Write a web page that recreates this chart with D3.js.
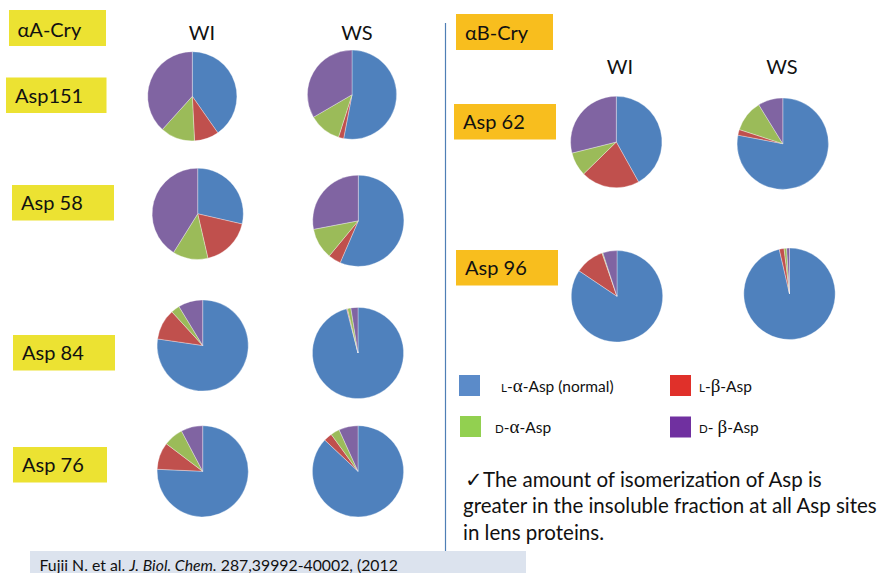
<!DOCTYPE html>
<html>
<head>
<meta charset="utf-8">
<script src="https://cdn.jsdelivr.net/npm/d3@7"></script>
<style>
  html, body { margin: 0; padding: 0; background: #fff; }
  svg { display: block; font-family: Lato, "Noto Sans", sans-serif; }
  .greek { font-family: "Liberation Serif", "DejaVu Serif", serif; }
</style>
</head>
<body>
<svg id="chart" width="881" height="573"></svg>
<script>
// Asp isomer composition (%) per site, water-insoluble (WI) and water-soluble (WS) fractions
const isomers = ["L-α-Asp (normal)", "L-β-Asp", "D-α-Asp", "D-β-Asp"];
const fractions = ["WI", "WS"];

const alphaASites = ["Asp151", "Asp 58", "Asp 84", "Asp 76"];
const alphaA_WI = [
  [40.3, 8.9, 12.5, 38.3],
  [28.6, 17.8, 12.5, 41.1],
  [77.3, 10.9, 3.1, 8.7],
  [75.7, 9.6, 7.0, 7.7]
];
const alphaA_WS = [
  [53.0, 1.9, 11.7, 33.4],
  [56.5, 4.5, 11.0, 28.0],
  [96.0, 0.3, 1.2, 2.5],
  [87.1, 3.0, 3.2, 6.8]
];

const alphaBSites = ["Asp 62", "Asp 96"];
const alphaB_WI = [
  [41.9, 20.8, 8.4, 28.9],
  [84.4, 10.3, 0.3, 5.0]
];
const alphaB_WS = [
  [78.0, 2.0, 11.2, 8.8],
  [96.4, 1.7, 0.9, 1.0]
];

const noteLines = [
  "\u2713The amount of isomerization of Asp is",
  "greater in the insoluble fraction at all Asp sites",
  "in lens proteins."
];
const citation = ["Fujii N. et al. ", "J. Biol. Chem.", " 287,39992-40002, (2012"];

// slice fills and legend swatch fills
const sliceColor = d3.scaleOrdinal().domain(isomers)
  .range(["#4f81bd", "#c0504d", "#9bbb59", "#8064a2"]);
const swatchColor = d3.scaleOrdinal().domain(isomers)
  .range(["#5b8bc9", "#e0302a", "#92d050", "#7030a0"]);

const svg = d3.select("#chart");

// panel layout for each protein block
const groups = [
  {
    name: "\u03b1A-Cry", fill: "#ece232", box: [9, 10, 97, 36], textX: 17.5, textY: 37,
    sites: alphaASites, WI: alphaA_WI, WS: alphaA_WS,
    headerY: 40, headerX: { WI: 202, WS: 357 },
    colX: { WI: [192.3, 197.7, 202.7, 202.7], WS: [352, 358.3, 358, 358] },
    rowY: { WI: [96.3, 213.8, 345.5, 471.3], WS: [94.7, 220.8, 353, 471.3] },
    radius: [44.6, 45.6, 45.6, 45.6],
    labelBox: [[6, 77.5, 100.5, 35.5], [12, 185, 102, 35.5], [13, 335, 102, 35.5], [13, 447, 94, 35.5]]
  },
  {
    name: "\u03b1B-Cry", fill: "#f8be1e", box: [456, 14, 97, 36], textX: 465, textY: 40,
    sites: alphaBSites, WI: alphaB_WI, WS: alphaB_WS,
    headerY: 74, headerX: { WI: 620, WS: 782 },
    colX: { WI: [616.3, 617], WS: [782.8, 789.5] },
    rowY: { WI: [142, 296.3], WS: [143.7, 293.8] },
    radius: [45.7, 45.7],
    labelBox: [[454, 104, 102, 35.5], [456, 250, 102, 35.5]]
  }
];

const pie = d3.pie().sort(null).value(d => d.value);

groups.forEach(g => {
  // protein name box
  svg.append("rect")
    .attr("x", g.box[0]).attr("y", g.box[1])
    .attr("width", g.box[2]).attr("height", g.box[3])
    .attr("fill", g.fill);
  svg.append("text")
    .attr("x", g.textX).attr("y", g.textY)
    .attr("font-size", 20).attr("fill", "#111")
    .text(g.name);

  // fraction headers
  fractions.forEach(f => {
    svg.append("text")
      .attr("x", g.headerX[f]).attr("y", g.headerY)
      .attr("text-anchor", "middle")
      .attr("font-size", 20).attr("fill", "#111")
      .text(f);
  });

  g.sites.forEach((site, i) => {
    const lb = g.labelBox[i];
    svg.append("rect")
      .attr("x", lb[0]).attr("y", lb[1])
      .attr("width", lb[2]).attr("height", lb[3])
      .attr("fill", g.fill);
    svg.append("text")
      .attr("x", lb[0] + 9).attr("y", lb[1] + 25)
      .attr("font-size", 20).attr("fill", "#111")
      .text(site);

    fractions.forEach(f => {
      const values = g[f][i].map((v, k) => ({ key: isomers[k], value: v }));
      const arc = d3.arc().innerRadius(0).outerRadius(g.radius[i]);
      svg.append("g")
        .attr("transform", `translate(${g.colX[f][i]},${g.rowY[f][i]})`)
        .selectAll("path")
        .data(pie(values))
        .join("path")
        .attr("d", arc)
        .attr("fill", d => sliceColor(d.data.key))
        .attr("stroke", "#ffffff")
        .attr("stroke-opacity", 0.55)
        .attr("stroke-width", 0.6);
    });
  });
});

// divider between the two protein blocks
svg.append("line")
  .attr("x1", 445.5).attr("x2", 445.5)
  .attr("y1", 23).attr("y2", 551)
  .attr("stroke", "#4f7fb5").attr("stroke-width", 1.2);

// legend: small-cap L/D prefix, serif Greek letter, then the rest
const legendX = d3.scaleOrdinal().domain(isomers).range([459, 670, 460, 670]);
const legendY = d3.scaleOrdinal().domain(isomers).range([375, 375, 416, 416.5]);
const legendTextX = d3.scaleOrdinal().domain(isomers).range([501, 699, 495, 699]);
const legendParts = {
  "L-α-Asp (normal)": ["L", "-", "\u03b1", "-Asp (normal)"],
  "L-β-Asp": ["L", "-", "\u03b2", "-Asp"],
  "D-α-Asp": ["D", "-", "\u03b1", "-Asp"],
  "D-β-Asp": ["D", "- ", "\u03b2", "-Asp"]
};
const legend = svg.append("g");
isomers.forEach(k => {
  legend.append("rect")
    .attr("x", legendX(k)).attr("y", legendY(k))
    .attr("width", 21).attr("height", 21)
    .attr("fill", swatchColor(k));
  const t = legend.append("text")
    .attr("x", legendTextX(k)).attr("y", legendY(k) + 16.5)
    .attr("font-size", 15.5).attr("fill", "#111")
    .attr("xml:space", "preserve");
  const p = legendParts[k];
  t.append("tspan").attr("font-size", 11.5).text(p[0]);
  t.append("tspan").text(p[1]);
  t.append("tspan").attr("class", "greek").attr("font-size", 19).text(p[2]);
  t.append("tspan").text(p[3]);
});

// conclusion note
svg.append("g").selectAll("text")
  .data(noteLines)
  .join("text")
  .attr("x", (d, i) => i === 0 ? 465 : 463)
  .attr("y", (d, i) => 486.7 + i * 26.4)
  .attr("font-size", 20.5).attr("fill", "#111")
  .text(d => d);

// citation bar
svg.append("rect")
  .attr("x", 30).attr("y", 551)
  .attr("width", 496).attr("height", 22)
  .attr("fill", "#dce3ee");
const cite = svg.append("text")
  .attr("x", 39.5).attr("y", 570.5)
  .attr("font-size", 15.8).attr("fill", "#111");
citation.forEach((s, i) => {
  cite.append("tspan").attr("font-style", i === 1 ? "italic" : "normal").text(s);
});
</script>
</body>
</html>
